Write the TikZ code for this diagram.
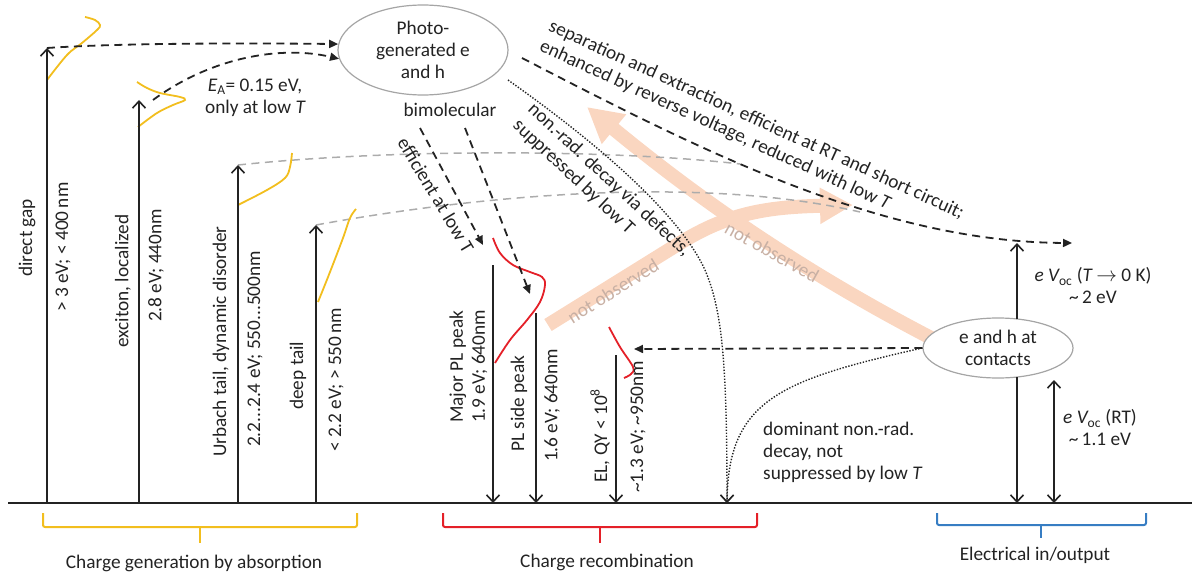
\documentclass[tikz,border=0pt]{standalone}
\usepackage{fontspec}
\setmainfont{Carlito}
\usetikzlibrary{arrows.meta,shapes.geometric,calc}
\definecolor{ink}{RGB}{35,35,35}
\definecolor{gold}{RGB}{242,190,30}
\definecolor{pred}{RGB}{228,32,40}
\definecolor{eblue}{RGB}{55,125,195}
\definecolor{peach}{RGB}{250,214,192}
\definecolor{peachtxt}{RGB}{200,176,164}
\definecolor{lgray}{RGB}{172,172,172}
\definecolor{egray}{RGB}{165,165,165}
\begin{document}
\begin{tikzpicture}[x=1pt,y=-1pt,
  >={Straight Barb[length=7pt,width=13pt]},
  every node/.style={font=\fontsize{19.3}{22}\selectfont, text=ink},
  lbl/.style={inner sep=0pt},
  vlbl/.style={inner sep=0pt, rotate=90, anchor=west},
  level/.style={draw=ink, line width=1.6pt, ->},
  dasharr/.style={draw=ink, line width=1.8pt, dash pattern=on 8pt off 5.5pt, -{Triangle[length=9pt,width=8pt]}},
  dotarr/.style={draw=ink, line width=1.4pt, dash pattern=on 1.4pt off 1.6pt, ->},
  ghost/.style={draw=lgray, line width=1.5pt, dash pattern=on 8pt off 5.5pt},
  spec/.style={line width=1.8pt},
  big/.style={draw=peach, line width=14pt},
  brace/.style={line width=2pt, rounded corners=2pt},
  bubble/.style={ellipse, draw=egray, line width=1.2pt, fill=white, inner sep=0pt, align=center}
]
\useasboundingbox (0,0) rectangle (1192,575);

% ---------- coordinates ----------
\coordinate (base0) at (8,503);
\coordinate (base1) at (1192,503);
\coordinate (b1) at (47,503);   \coordinate (t1) at (47,48);
\coordinate (b2) at (139,503);  \coordinate (t2) at (139,100);
\coordinate (b3) at (238,503);  \coordinate (t3) at (238,165);
\coordinate (b4) at (316,503);  \coordinate (t4) at (316,225);
\coordinate (p1s) at (493,265); \coordinate (p1e) at (493,503);
\coordinate (p2s) at (536,313); \coordinate (p2e) at (536,503);
\coordinate (p3s) at (616,355); \coordinate (p3e) at (616,503);
\coordinate (nre) at (727,503);
\coordinate (vtop) at (1017,243);
\coordinate (vct) at (1017,319);
\coordinate (vcb) at (1017,377);
\coordinate (vbase) at (1017,503);
\coordinate (rt1) at (1054,380);
\coordinate (rt0) at (1054,503);

% ---------- peach arrows (behind) ----------
\coordinate (pa0) at (548,325); \coordinate (pa1) at (680,243); \coordinate (pa2) at (853,205);
\draw[big, -{Triangle[length=33pt,width=34pt]}] (pa0) -- (pa1) .. controls (730,212) and (770,207) .. (pa2);
\coordinate (pb0) at (935,340); \coordinate (pb1) at (587,107);
\draw[big, -{Triangle[length=35pt,width=36pt]}] (pb0) .. controls (800,270) and (700,200) .. (pb1);

% ---------- baseline ----------
\draw[draw=ink, line width=2pt] (base0) -- (base1);

% ---------- gray dashed ----------
\coordinate (g1b) at (740,164);
\draw[ghost] (t3) .. controls (400,148) and (620,150) .. (g1b);
\coordinate (g2b) at (860,212);
\draw[ghost] (t4) .. controls (480,195) and (700,175) .. (g2b);

% ---------- spectra ----------
\draw[gold, spec] plot[smooth, tension=0.6] coordinates {(47,80) (67,55) (82,43) (97,30) (100,25) (95,20) (85,17)};
\draw[gold, spec] plot[smooth, tension=0.6] coordinates {(138,127) (157,113) (173,105) (185,100) (180,97) (160,93) (147,88) (137,82)};
\draw[gold, spec] plot[smooth, tension=0.6] coordinates {(238,205) (267,190) (285,178) (290,167) (292,153)};
\draw[gold, spec] plot[smooth, tension=0.6] coordinates {(318,302) (330,272) (343,238) (350,218) (356,209)};
\draw[pred, spec] plot[smooth, tension=0.6] coordinates {(495,363) (510,340) (527,320) (540,302) (545,285) (542,277) (530,272) (513,265) (500,253) (493,238)};
\draw[pred, spec] plot[smooth, tension=0.6] coordinates {(609,327) (620,347) (633,367) (631,374) (624,378)};

% ---------- level arrows ----------
\draw[level] (b1) -- (t1);
\draw[level] (b2) -- (t2);
\draw[level] (b3) -- (t3);
\draw[level] (b4) -- (t4);
\draw[level] (p1s) -- (p1e);
\draw[level] (p2s) -- (p2e);
\draw[level] (p3s) -- (p3e);

% ---------- ellipses ----------
\node[bubble, minimum width=170pt, minimum height=90pt] (photo) at (423,50) {Photo-\\generated e\\and h};
\node[bubble, minimum width=150pt, minimum height=60pt] (contacts) at (998,348) {e and h at\\contacts};

\draw[level] (vct) -- (vtop);
\draw[level] (vcb) -- (vbase);
\draw[level, <->] (rt0) -- (rt1);

% ---------- dashed process arrows ----------
\draw[dasharr] (t1) .. controls (120,43) and (250,43) .. (photo.176);
\coordinate (d2s) at (153,100);
\draw[dasharr] (d2s) .. controls (210,58) and (280,45) .. (photo.186);
\coordinate (sep0) at (522,58);
\coordinate (sep1) at (1072,243);
\draw[dasharr] (sep0) .. controls (700,150) and (880,242) .. (sep1);
\coordinate (bm1s) at (420,128); \coordinate (bm1e) at (483,245);
\draw[dasharr] (bm1s) -- (bm1e);
\coordinate (bm2s) at (465,128); \coordinate (bm2e) at (530,294);
\draw[dasharr] (bm2s) -- (bm2e);
\coordinate (ele) at (634,349);
\draw[dasharr] (contacts.west) -- (ele);

% ---------- dotted ----------
\coordinate (nr0) at (508,80);
\coordinate (nrm) at (705,270);
\draw[dotarr] (nr0) .. controls (600,145) and (680,215) .. (nrm) .. controls (722,310) and (727,360) .. (nre);
\draw[dotarr] (contacts.west) .. controls (780,380) and (728,400) .. (nre);

% ---------- braces ----------
\draw[gold, brace] (43,513) -- (43,527) -- (357,527) -- (357,513);
\draw[gold, brace] (200,527) -- (200,543);
\draw[pred, brace] (443,513) -- (443,527) -- (757,527) -- (757,513);
\draw[pred, brace] (600,527) -- (600,543);
\draw[eblue, brace] (937,513) -- (937,525) -- (1146,525) -- (1146,513);
\draw[eblue, brace] (1041,525) -- (1041,538);

% ---------- labels ----------
\node[lbl] (lgen) at (194,563) {Charge generation by absorption};
\node[lbl] (lrec) at (607,562) {Charge recombination};
\node[lbl] (lel) at (1035,555) {Electrical in/output};

\node[vlbl] (l1a) at (27,277) {direct gap};
\node[vlbl] (l1b) at (63,312) {> 3 eV; < 400\,nm};
\node[vlbl] (l2a) at (123,348) {exciton, localized};
\node[vlbl] (l2b) at (156,322) {2.8 eV; 440nm};
\node[vlbl] (l3a) at (221,457) {Urbach tail, dynamic disorder};
\node[vlbl] (l3b) at (255,447) {2.2...2.4 eV; 550...500nm};
\node[vlbl] (l4a) at (298,410) {deep tail};
\node[vlbl] (l4b) at (336,452) {< 2.2 eV; > 550\,nm};
\node[vlbl, align=left] (lp1) at (468.5,423) {Major PL peak\\1.9 eV; 640nm};
\node[vlbl] (lp2a) at (519,452) {PL side peak};
\node[vlbl] (lp2b) at (552,462) {1.6 eV; 640nm};
\node[vlbl] (lp3a) at (600,483) {EL, QY < 10\textsuperscript{8}};
\node[vlbl] (lp3b) at (638,493) {\textasciitilde1.3 eV; \textasciitilde950nm};

\node[lbl, align=center] (ea) at (255,98) {{\itshape E}\textsubscript{A}= 0.15 eV,\\only at low {\itshape T}};
\node[lbl] (bim) at (450,110) {bimolecular};
\node[lbl, rotate=-59] (eff) at (436,195) {efficient at low T};
\node[lbl, rotate=-43, anchor=west, align=left] (nonrad) at (523,115) {non.-rad. decay via defects,\\suppressed by low T};
\node[lbl, rotate=-24.5, anchor=west, align=left] (sep) at (545,36) {separation and extraction, efficient at RT and short circuit;\\enhanced by reverse voltage, reduced with low {\itshape T}};
\node[lbl, text=peachtxt, rotate=32] (no1) at (613,291) {not observed};
\node[lbl, text=peachtxt, rotate=-29] (no2) at (772,252) {not observed};
\node[lbl, align=left, anchor=west] (dom) at (763,452) {dominant non.-rad.\\decay, not\\suppressed by low {\itshape T}};
\node[lbl, align=center] (voc0) at (1093,286) {{\itshape e V}\textsubscript{oc} ({\itshape T} $\rightarrow$ 0 K)\\\textasciitilde\,2 eV};
\node[lbl, align=center] (voc1) at (1100,428) {{\itshape e V}\textsubscript{oc} (RT)\\\textasciitilde\,1.1 eV};
\end{tikzpicture}
\end{document}
